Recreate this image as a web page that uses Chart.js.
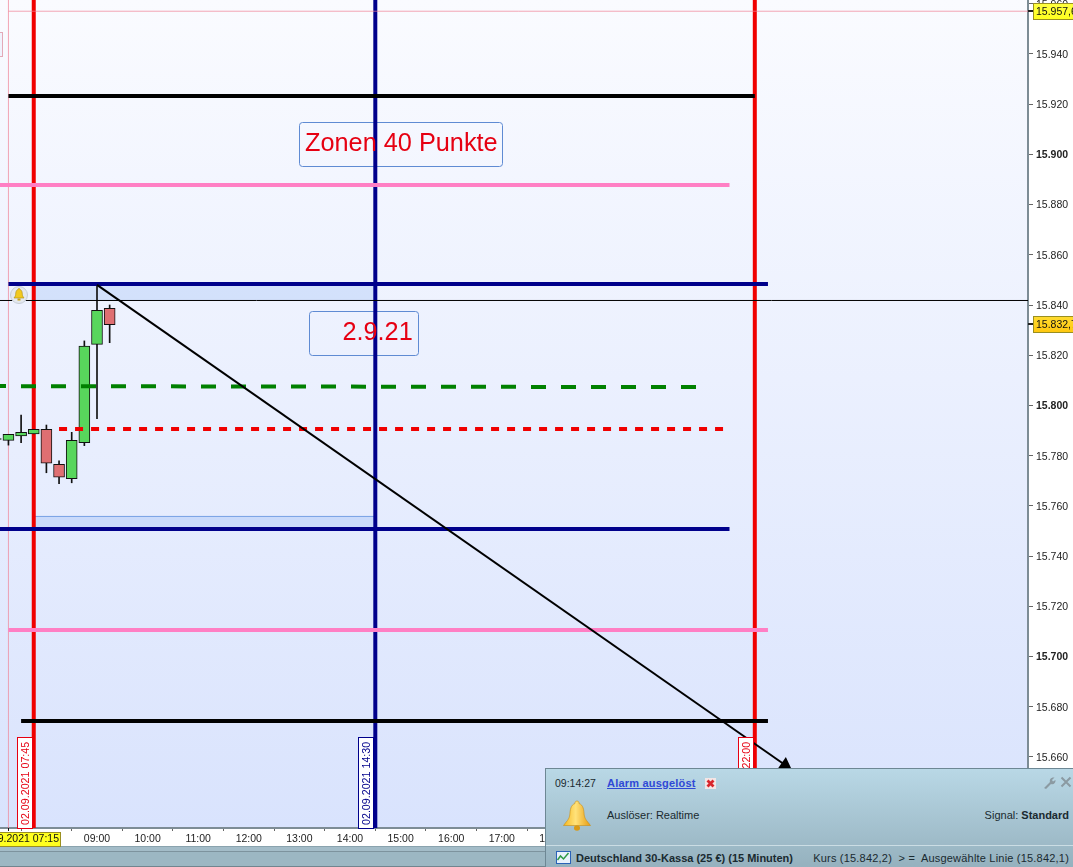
<!DOCTYPE html>
<html>
<head>
<meta charset="utf-8">
<title>Deutschland 30-Kassa</title>
<script src="https://cdn.jsdelivr.net/npm/chart.js@4"></script>
<style>
  body { margin: 0; background: #fff; font-family: "Liberation Sans", Arial, sans-serif; overflow: hidden; }
  #wrap { position: relative; width: 1073px; height: 867px; overflow: hidden; }
  canvas { position: absolute; left: 0; top: 0; }
  .band { position: absolute; left: 0; top: 846px; width: 1073px; height: 21px; box-sizing: border-box; background: #9cb7c3;
          border-top: 1px solid #8aa3ae; border-bottom: 1px solid #71858f; box-shadow: inset 0 4px 0 #a3bcc8, inset 0 5px 0 #7d939e; }
  #panel { position: absolute; left: 545px; top: 768px; width: 528px; height: 99px; box-sizing: border-box; font-size: 11px; color: #1a2a30;
           background: linear-gradient(#b9d8e6, #95b1be); border-top: 1px solid #6d8794; border-left: 1px solid #6d8794; }
  #panel span, #panel svg, #panel div { position: absolute; white-space: nowrap; }
  #smallBell { position: absolute; left: 10px; top: 286px; }
</style>
</head>
<body>
<div id="wrap">
  <div class="band"></div>
  <canvas id="dax" width="1073" height="867"></canvas>
  <svg id="smallBell" width="18" height="18" viewBox="0 0 18 18">
    <circle cx="9" cy="9" r="8.5" fill="#e4e8ee" stroke="#c5ccd6"/>
    <path d="M9 2.5c1 0 1.2.8 1.2 1.2 2 .6 2 3 2.2 5 .1 1.600 1.100 2.300 1.600 3.300H4c.5-1 1.500-1.700 1.600-3.300.2-2 .2-4.400 2.200-5C7.800 3.300 8 2.500 9 2.500z" fill="#f2c91e" stroke="#a98a10" stroke-width=".6"/>
    <rect x="7.500" y="12.500" width="3" height="2" fill="#c8a013"/>
  </svg>
  <div id="panel">
    <span style="left:9px;top:8px;font-size:10.5px">09:14:27</span>
    <span style="left:61px;top:8px;color:#2f49d6;font-weight:bold;text-decoration:underline;letter-spacing:.2px">Alarm ausgelöst</span>
    <svg style="left:159px;top:9px" width="11" height="11" viewBox="0 0 11 11">
      <rect width="11" height="11" fill="#f3e6e6"/>
      <path d="M2.500 2.500l6 6M8.500 2.500l-6 6" stroke="#d8262c" stroke-width="2.800"/>
    </svg>
    <svg style="left:497px;top:7px" width="13" height="13" viewBox="0 0 13 13">
      <path d="M1 12l6-6c-.8-2.500 1-5 4.500-4.500L9 4l1 1.500 2.500-1.500c.3 3-2 5-4.500 4l-5 5z" fill="#8b9aa2"/>
    </svg>
    <svg style="left:514px;top:7px" width="12" height="12" viewBox="0 0 12 12">
      <path d="M1.500 1.500l9 9M10.500 1.500l-9 9" stroke="#8b9aa2" stroke-width="2"/>
    </svg>
    <svg style="left:15px;top:31px" width="32" height="32" viewBox="0 0 32 32">
      <defs><linearGradient id="gold" x1="0" x2="1" y1="0" y2="0">
        <stop offset="0" stop-color="#f6b820"/><stop offset=".45" stop-color="#ffe27a"/><stop offset="1" stop-color="#e89c12"/>
      </linearGradient></defs>
      <path d="M16 1c1.800 0 2.200 1.500 2 2.500 4.500 1.500 4.800 6.500 5.200 11.500.4 4.500 4 7 6.300 10.500H2.500C4.800 22 8.400 19.500 8.800 15c.4-5 .7-10 5.200-11.500C13.800 2.500 14.200 1 16 1z" fill="url(#gold)" stroke="#c98d12" stroke-width=".6"/>
      <ellipse cx="16" cy="28" rx="3" ry="2.800" fill="#d99a16"/>
    </svg>
    <span style="left:61px;top:40px">Auslöser: Realtime</span>
    <span style="right:4px;top:40px">Signal: <b>Standard</b></span>
    <div style="left:0;top:76px;width:528px;height:1px;background:#cbdde4"></div>
    <svg style="left:10px;top:82px" width="15" height="13" viewBox="0 0 15 13">
      <rect x=".5" y=".5" width="14" height="12" fill="#e8f1fb" stroke="#2a62b8"/>
      <path d="M1.500 9l3-4 3 3 5-6" fill="none" stroke="#2f9a46" stroke-width="1.500"/>
    </svg>
    <span style="left:30px;top:83px;font-weight:bold">Deutschland 30-Kassa (25 €) (15 Minuten)</span>
    <span style="right:4px;top:83px;letter-spacing:.2px">Kurs (15.842,2)&nbsp; &gt; =&nbsp; Ausgewählte Linie (15.842,1)</span>
  </div>
</div>
<script>
// hours are decimal, 7.25 = 07:15
let candleTimes = [7, 7.25, 7.5, 7.75, 8, 8.25, 8.5, 8.75, 9, 9.25];
let opens  = [15.7865, 15.7861, 15.7879, 15.7887, 15.7905, 15.7766, 15.7708, 15.7852, 15.8243, 15.8387];
let highs  = [15.7870, 15.7885, 15.7962, 15.7905, 15.7922, 15.7779, 15.7893, 15.8257, 15.8477, 15.8400];
let lows   = [15.7860, 15.7842, 15.7852, 15.7887, 15.7732, 15.7688, 15.7692, 15.7840, 15.7947, 15.8250];
let closes = [15.7868, 15.7885, 15.7893, 15.7905, 15.7770, 15.7714, 15.7861, 15.8236, 15.8379, 15.8322];

let priceTicks = [15.66, 15.68, 15.70, 15.72, 15.74, 15.76, 15.78, 15.80, 15.82, 15.84, 15.86, 15.88, 15.90, 15.92, 15.94, 15.96];
let boldPrices = [15.70, 15.80, 15.90];
let hourTicks = [8, 9, 10, 11, 12, 13, 14, 15, 16, 17, 18, 19, 20, 21, 22, 23];

let blackTop   = [[7.25, 15.9232], [22, 15.9232]];
let pinkTop    = [[7.0, 15.8878], [21.5, 15.8878]];
let blueTop    = [[7.25, 15.8484], [22.26, 15.8484]];
let alarmLine  = [[7.0, 15.8418], [27.5, 15.8418]];
let greenDash  = [[7.083, 15.8077], [20.86, 15.8073]];
let redDots    = [[8.25, 15.7906], [21.39, 15.7906]];
let blueLow    = [[7.0, 15.7508], [21.5, 15.7508]];
let pinkLow    = [[7.25, 15.7106], [22.26, 15.7106]];
let blackLow   = [[7.5, 15.6743], [22.26, 15.6743]];
let highMarker = [[7.25, 15.9570], [27.5, 15.9570]];
let trendLine  = [[9, 15.8480], [22.6, 15.6568]];
let upperZone  = [[7.75, 15.8484], [14.5, 15.8484]];
let lowerZone  = [[7.75, 15.7558], [14.5, 15.7558]];
let upperZoneBase = 15.8418;
let lowerZoneBase = 15.7508;

let redStart = 7.75, blueMiddle = 14.5, redEnd = 22, startMarker = 7.25;
let yMin = 15.63172, yMax = 15.96147, xMin = 7.083, xMax = 27.399;

let noteBoxes = [
  {text: 'Zonen 40 Punkte', x0: 12.992, x1: 17.004, top: 15.9129, bottom: 15.8954, textX: 13.11},
  {text: '2.9.21', x0: 13.19, x1: 15.344, top: 15.8376, bottom: 15.8201, textX: 13.85},
];
let dateTags = [
  {text: '02.09.2021 07:45', time: redStart, color: '#e60012'},
  {text: '02.09.2021 14:30', time: blueMiddle, color: '#00008b'},
  {text: '02.09.2021 22:00', time: redEnd, color: '#e60012'},
];
let priceTags = [
  {text: '15.957,6', price: 15.9570, top: '#ffff40', bottom: '#ffff20'},
  {text: '15.832,7', price: 15.8324, top: '#ffdc30', bottom: '#ffc810'},
];
let timeTagLabel = '02.09.2021 07:15';

function toPoints(pairs) {
  return pairs.map(p => ({x: p[0], y: p[1]}));
}

function lineSet(pairs, color, width, order, extra) {
  return Object.assign({
    type: 'line',
    data: toPoints(pairs),
    borderColor: color,
    borderWidth: width,
    pointRadius: 0,
    order: order,
    tension: 0,
  }, extra || {});
}

function verticalSet(time, color) {
  return lineSet([[time, yMin], [time, yMax]], color, 4, 6);
}

let candleBodies = {
  type: 'bar',
  data: candleTimes.map((t, i) => ({x: t, y: [Math.min(opens[i], closes[i]), Math.max(opens[i], closes[i])]})),
  backgroundColor: candleTimes.map((t, i) => closes[i] >= opens[i] ? '#58d65c' : '#df6f72'),
  borderColor: '#111',
  borderWidth: 1,
  borderSkipped: false,
  barThickness: 11,
  grouped: false,
  order: 3,
};

let candleWicks = {
  type: 'bar',
  data: candleTimes.map((t, i) => ({x: t, y: [lows[i], highs[i]]})),
  backgroundColor: '#111',
  barThickness: 1,
  grouped: false,
  order: 4,
};

let notesPlugin = {
  id: 'notes',
  beforeDraw(chart) {
    let a = chart.chartArea, ctx = chart.ctx;
    let g = ctx.createLinearGradient(0, a.top, 0, a.bottom);
    g.addColorStop(0, '#fafbff');
    g.addColorStop(1, '#d9e3fd');
    ctx.save();
    ctx.fillStyle = g;
    ctx.fillRect(a.left, a.top, a.right - a.left, a.bottom - a.top);
    ctx.restore();
  },
  beforeDatasetsDraw(chart) {
    let ctx = chart.ctx, x = chart.scales.x, y = chart.scales.y;
    ctx.save();
    ctx.strokeStyle = '#5f8bd3';
    ctx.lineWidth = 1;
    noteBoxes.forEach(b => {
      let l = x.getPixelForValue(b.x0), r = x.getPixelForValue(b.x1);
      let t = y.getPixelForValue(b.top), u = y.getPixelForValue(b.bottom);
      ctx.beginPath();
      ctx.roundRect(Math.round(l) + 0.5, Math.round(t) + 0.5, Math.round(r - l), Math.round(u - t), 3);
      ctx.stroke();
    });
    // small box cut by the left edge
    ctx.strokeStyle = '#e3a9b8';
    ctx.fillStyle = '#f0f2fd';
    ctx.fillRect(-1, 32, 4, 24);
    ctx.strokeRect(-1.5, 32.5, 4, 24);
    ctx.restore();
  },
  afterDatasetsDraw(chart) {
    let ctx = chart.ctx, x = chart.scales.x, y = chart.scales.y, a = chart.chartArea;
    ctx.save();
    ctx.fillStyle = '#e60012';
    ctx.font = '25.3px "Liberation Sans"';
    ctx.textBaseline = 'alphabetic';
    noteBoxes.forEach(b => {
      let u = y.getPixelForValue(b.bottom);
      ctx.fillText(b.text, x.getPixelForValue(b.textX), u - 15);
    });
    ctx.font = '10.7px "Liberation Sans"';
    dateTags.forEach(d => {
      let right = Math.round(x.getPixelForValue(d.time)) - 2;
      ctx.fillStyle = '#fff';
      ctx.fillRect(right - 15, a.bottom - 91, 15, 91);
      ctx.strokeStyle = d.color;
      ctx.lineWidth = 1;
      ctx.strokeRect(right - 14.5, a.bottom - 90.5, 15, 91);
      ctx.save();
      ctx.translate(right - 3, a.bottom - 3);
      ctx.rotate(-Math.PI / 2);
      ctx.fillStyle = d.color;
      ctx.fillText(d.text, 0, 0);
      ctx.restore();
    });
    ctx.restore();
  },
  afterDraw(chart) {
    let ctx = chart.ctx, x = chart.scales.x, y = chart.scales.y, a = chart.chartArea;
    ctx.save();
    ctx.font = '10.5px "Liberation Sans"';
    ctx.textBaseline = 'middle';
    priceTags.forEach(p => {
      let py = Math.round(y.getPixelForValue(p.price));
      let g = ctx.createLinearGradient(0, py - 8, 0, py + 8);
      g.addColorStop(0, p.top);
      g.addColorStop(1, p.bottom);
      ctx.strokeStyle = '#222';
      ctx.lineWidth = 2;
      ctx.beginPath();
      ctx.moveTo(a.right, py);
      ctx.lineTo(a.right + 5, py);
      ctx.stroke();
      ctx.fillStyle = g;
      ctx.fillRect(a.right + 5, py - 8, 46, 16);
      ctx.strokeStyle = '#9a8f20';
      ctx.lineWidth = 1;
      ctx.strokeRect(a.right + 5.5, py - 7.5, 46, 16);
      ctx.fillStyle = '#111';
      ctx.fillText(p.text, a.right + 8, py + 1);
    });
    // yellow time tag under the first marker
    let tagRight = 61;
    ctx.fillStyle = '#ffff20';
    ctx.fillRect(0, a.bottom + 4, tagRight, 14);
    ctx.strokeStyle = '#9a8f20';
    ctx.strokeRect(-1, a.bottom + 4.5, tagRight + 0.5, 14);
    ctx.fillStyle = '#111';
    ctx.textAlign = 'right';
    ctx.fillText(timeTagLabel, tagRight - 2, a.bottom + 11.5);
    let tx = Math.round(x.getPixelForValue(startMarker));
    ctx.strokeStyle = '#111';
    ctx.beginPath();
    ctx.moveTo(tx + 0.5, a.bottom);
    ctx.lineTo(tx + 0.5, a.bottom + 3);
    ctx.stroke();
    ctx.restore();
  },
};

new Chart(document.getElementById('dax').getContext('2d'), {
  data: {
    datasets: [
      lineSet(trendLine, '#000', 2, 0, {
        pointStyle: 'triangle',
        pointRadius: [0, 8],
        pointRotation: 125,
        pointBackgroundColor: '#000',
        pointBorderWidth: 0,
      }),
      lineSet(blackTop, '#000', 4, 1),
      lineSet(pinkTop, '#ff7fc4', 4, 1),
      lineSet(blueTop, '#00008b', 4, 1),
      lineSet(alarmLine, '#000', 1, 1),
      lineSet(greenDash, '#008000', 4, 1, {borderDash: [15, 15], borderDashOffset: 9}),
      lineSet(redDots, '#f00000', 4, 1, {borderDash: [8, 8]}),
      lineSet(blueLow, '#00008b', 4, 1),
      lineSet(pinkLow, '#ff7fc4', 4, 1),
      lineSet(blackLow, '#000', 4, 1),
      candleBodies,
      candleWicks,
      lineSet([[startMarker, yMin], [startMarker, yMax]], 'rgba(240,130,150,0.7)', 1, 5),
      lineSet(highMarker, 'rgba(240,130,150,0.7)', 1, 5),
      verticalSet(redStart, '#f00000'),
      verticalSet(blueMiddle, '#00008b'),
      verticalSet(redEnd, '#f00000'),
      lineSet(upperZone, 'rgba(0,0,0,0)', 0, 7, {fill: {value: upperZoneBase}, backgroundColor: 'rgba(150,185,245,0.3)'}),
      lineSet(lowerZone, '#76a0e4', 1, 7, {fill: {value: lowerZoneBase}, backgroundColor: 'rgba(150,185,245,0.35)'}),
    ],
  },
  options: {
    responsive: false,
    animation: false,
    layout: {padding: 0, autoPadding: false},
    plugins: {
      legend: {display: false},
      title: {display: false},
      tooltip: {enabled: false},
    },
    scales: {
      x: {
        type: 'linear',
        min: xMin,
        max: xMax,
        offset: false,
        afterBuildTicks: axis => { axis.ticks = hourTicks.map(v => ({value: v})); },
        afterFit: axis => { axis.height = 39; axis.paddingLeft = 0; axis.paddingRight = 0; },
        grid: {drawOnChartArea: false, tickLength: 3, tickColor: '#666'},
        border: {color: '#7d8c95', width: 2},
        ticks: {
          autoSkip: false,
          maxRotation: 0,
          padding: 2,
          color: '#222',
          font: {family: '"Liberation Sans"', size: 10.5},
          callback: v => String(v % 24).padStart(2, '0') + ':00',
        },
      },
      y: {
        type: 'linear',
        position: 'right',
        min: yMin,
        max: yMax,
        afterBuildTicks: axis => { axis.ticks = priceTicks.map(v => ({value: v})); },
        afterFit: axis => { axis.width = 45; axis.paddingTop = 0; axis.paddingBottom = 0; },
        grid: {drawOnChartArea: false, tickLength: 5, tickColor: '#666'},
        border: {color: '#7d8c95', width: 2},
        ticks: {
          autoSkip: false,
          padding: 3,
          labelOffset: 1,
          color: '#222',
          font: ctx => ({
            family: '"Liberation Sans"',
            size: 10.5,
            weight: ctx.tick && boldPrices.includes(ctx.tick.value) ? 'bold' : 'normal',
          }),
          callback: v => v.toFixed(3),
        },
      },
    },
  },
  plugins: [notesPlugin],
});
</script>
</body>
</html>
